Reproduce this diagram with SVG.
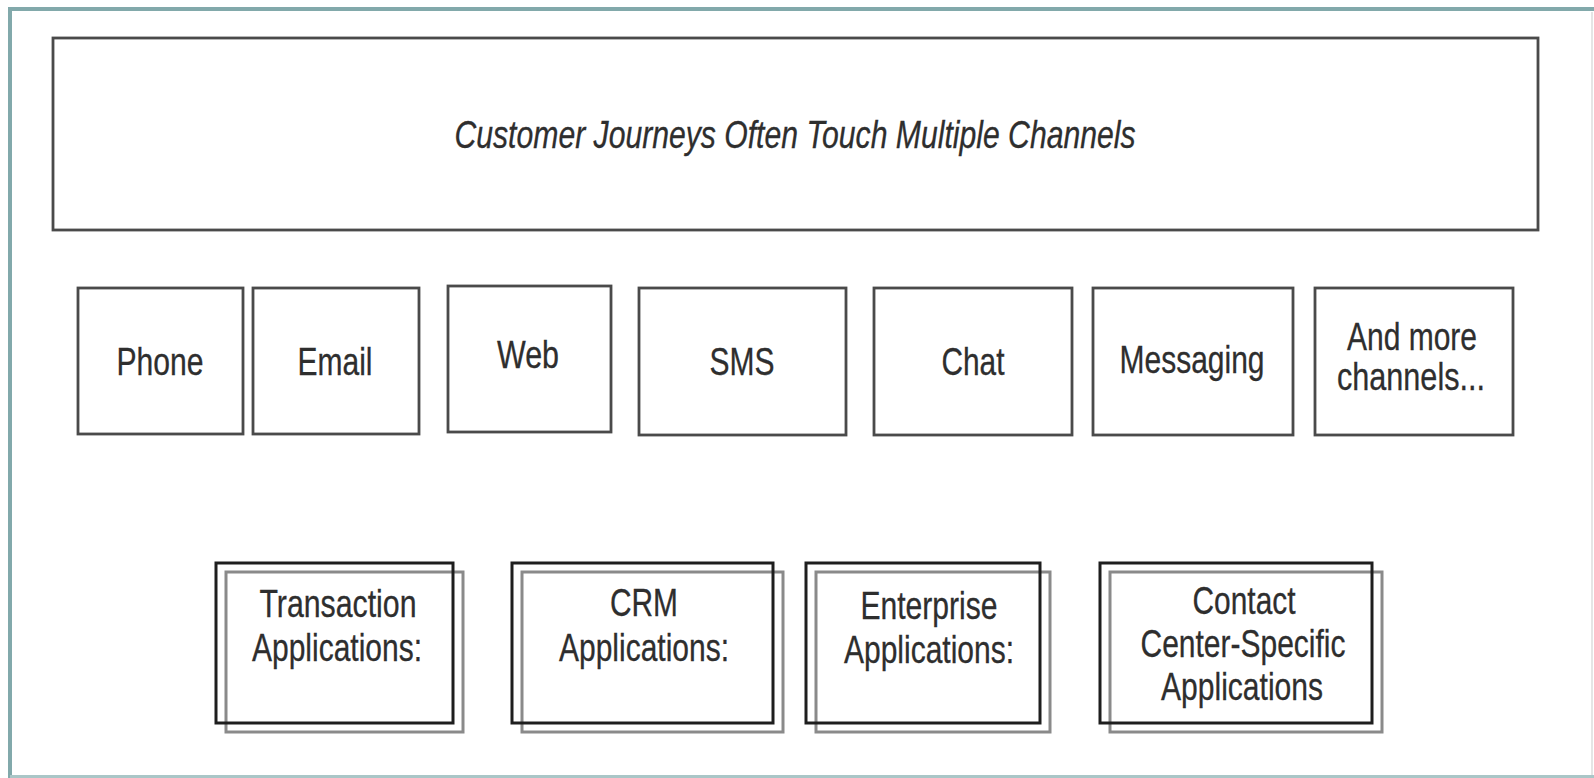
<svg xmlns="http://www.w3.org/2000/svg" width="1594" height="778" viewBox="0 0 1594 778">
<style>
.t{font-family:"Liberation Sans",Arial,sans-serif;font-size:38px;fill:#2e2e2e;stroke:#2e2e2e;stroke-width:0.3;text-anchor:middle}
.i{font-style:italic}
.box{fill:#fff;stroke:#4a4a4a;stroke-width:2.8}
.back{fill:none;stroke:#8a8a8a;stroke-width:3}
.front{fill:none;stroke:#1e1e1e;stroke-width:3}
</style>
<rect width="1594" height="778" fill="#fff"/>
<g id="frame">
<path d="M10,778 V9 H1594" fill="none" stroke="#82a9ab" stroke-width="4"/>
<path d="M1592,12 V776" fill="none" stroke="#dcdcdc" stroke-width="1.5"/>
<path d="M10,776.5 H1594" fill="none" stroke="#aac6c7" stroke-width="3"/>
</g>
<g id="title">
<rect class="box" x="53" y="38" width="1485" height="192"/>
<text class="t i" x="795" y="148" textLength="681" lengthAdjust="spacingAndGlyphs">Customer Journeys Often Touch Multiple Channels</text>
</g>
<g id="phone"><rect class="box" x="78" y="288" width="165" height="146"/><text class="t" x="160" y="375" textLength="87" lengthAdjust="spacingAndGlyphs">Phone</text></g>
<g id="email"><rect class="box" x="253" y="288" width="166" height="146"/><text class="t" x="335" y="375" textLength="75" lengthAdjust="spacingAndGlyphs">Email</text></g>
<g id="web"><rect class="box" x="448" y="286" width="163" height="146"/><text class="t" x="528" y="368" textLength="62" lengthAdjust="spacingAndGlyphs">Web</text></g>
<g id="sms"><rect class="box" x="639" y="288" width="207" height="147"/><text class="t" x="742" y="375" textLength="65" lengthAdjust="spacingAndGlyphs">SMS</text></g>
<g id="chat"><rect class="box" x="874" y="288" width="198" height="147"/><text class="t" x="973" y="375" textLength="63" lengthAdjust="spacingAndGlyphs">Chat</text></g>
<g id="messaging"><rect class="box" x="1093" y="288" width="200" height="147"/><text class="t" x="1192" y="373" textLength="145" lengthAdjust="spacingAndGlyphs">Messaging</text></g>
<g id="more"><rect class="box" x="1315" y="288" width="198" height="147"/><text class="t" x="1412" y="350" textLength="130" lengthAdjust="spacingAndGlyphs">And more</text><text class="t" x="1411" y="390" textLength="148" lengthAdjust="spacingAndGlyphs">channels...</text></g>
<g id="transaction">
<rect class="back" x="226" y="572" width="237" height="160"/>
<rect class="front" x="216" y="563" width="237" height="160"/>
<text class="t" x="338" y="617" textLength="157" lengthAdjust="spacingAndGlyphs">Transaction</text>
<text class="t" x="337" y="661" textLength="170" lengthAdjust="spacingAndGlyphs">Applications:</text>
</g>
<g id="crm">
<rect class="back" x="522" y="572" width="261" height="160"/>
<rect class="front" x="512" y="563" width="261" height="160"/>
<text class="t" x="644" y="616" textLength="68" lengthAdjust="spacingAndGlyphs">CRM</text>
<text class="t" x="644" y="661" textLength="170" lengthAdjust="spacingAndGlyphs">Applications:</text>
</g>
<g id="enterprise">
<rect class="back" x="816" y="572" width="234" height="160"/>
<rect class="front" x="806" y="563" width="234" height="160"/>
<text class="t" x="929" y="619" textLength="137" lengthAdjust="spacingAndGlyphs">Enterprise</text>
<text class="t" x="929" y="663" textLength="170" lengthAdjust="spacingAndGlyphs">Applications:</text>
</g>
<g id="contact">
<rect class="back" x="1110" y="572" width="272" height="160"/>
<rect class="front" x="1100" y="563" width="272" height="160"/>
<text class="t" x="1244" y="614" textLength="103" lengthAdjust="spacingAndGlyphs">Contact</text>
<text class="t" x="1243" y="657" textLength="205" lengthAdjust="spacingAndGlyphs">Center-Specific</text>
<text class="t" x="1242" y="700" textLength="162" lengthAdjust="spacingAndGlyphs">Applications</text>
</g>
<g id="connectors"/>
</svg>
